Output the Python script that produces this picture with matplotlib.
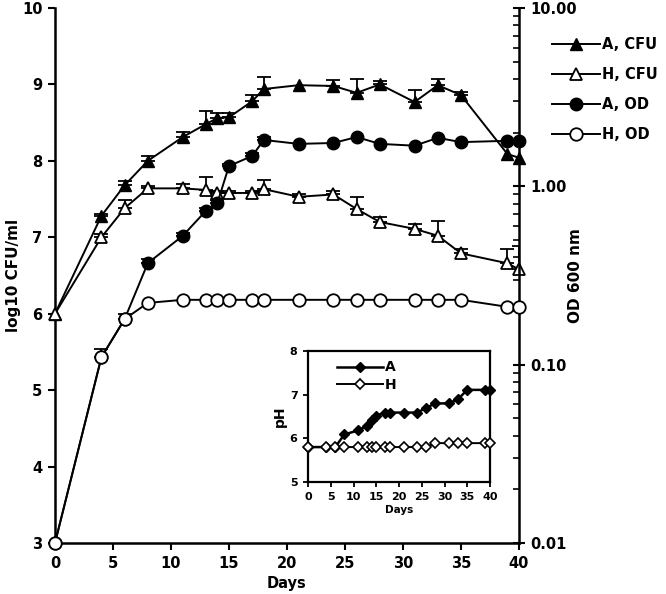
import matplotlib
matplotlib.use("Agg")
import matplotlib.pyplot as plt
import numpy as np
from matplotlib.ticker import LogLocator, NullFormatter

plt.rcParams['font.family'] = ['DejaVu Sans']
plt.rcParams['font.weight'] = 'bold'

# ---- data ----
days_cfu = [0, 4, 6, 8, 11, 13, 14, 15, 17, 18, 21, 24, 26, 28, 31, 33, 35, 39, 40]
a_cfu = [6.0, 7.28, 7.68, 8.0, 8.31, 8.48, 8.56, 8.57, 8.78, 8.94, 8.99, 8.98, 8.89, 9.0, 8.77, 8.99, 8.86, 8.09, 8.04]
a_cfu_err = [0, 0.03, 0.05, 0.06, 0.07, 0.17, 0.06, 0.06, 0.08, 0.16, 0, 0.08, 0.18, 0.05, 0.16, 0.08, 0.04, 0, 0]
h_cfu = [6.0, 7.0, 7.38, 7.64, 7.64, 7.62, 7.58, 7.58, 7.58, 7.63, 7.53, 7.56, 7.37, 7.2, 7.11, 7.02, 6.79, 6.66, 6.58]
h_cfu_err = [0, 0.04, 0.11, 0.03, 0.06, 0.17, 0.02, 0.02, 0.02, 0.12, 0.04, 0.05, 0.16, 0.06, 0.06, 0.19, 0.06, 0.19, 0.3]

days_od = [0, 4, 6, 8, 11, 13, 14, 15, 17, 18, 21, 24, 26, 28, 31, 33, 35, 39, 40]
a_od = [0.01, 0.110, 0.180, 0.371, 0.527, 0.728, 0.807, 1.30, 1.48, 1.82, 1.73, 1.75, 1.89, 1.73, 1.69, 1.87, 1.77, 1.80, 1.80]
a_od_err = [0, 0, 0, 0.02, 0.02, 0.03, 0.03, 0.03, 0.05, 0.08, 0, 0, 0, 0, 0, 0, 0, 0, 0]
h_od = [0.01, 0.110, 0.180, 0.222, 0.231, 0.231, 0.231, 0.231, 0.231, 0.231, 0.231, 0.231, 0.231, 0.231, 0.231, 0.231, 0.231, 0.211, 0.211]
h_od_err = [0, 0.012, 0.012, 0, 0, 0, 0, 0, 0, 0, 0, 0, 0, 0, 0, 0, 0, 0, 0]

days_ph = [0, 4, 6, 8, 11, 13, 14, 15, 17, 18, 21, 24, 26, 28, 31, 33, 35, 39, 40]
a_ph = [5.8, 5.8, 5.8, 6.09, 6.18, 6.29, 6.42, 6.52, 6.59, 6.59, 6.59, 6.59, 6.70, 6.80, 6.80, 6.90, 7.11, 7.11, 7.11]
h_ph = [5.8, 5.8, 5.8, 5.8, 5.8, 5.8, 5.8, 5.8, 5.8, 5.8, 5.8, 5.8, 5.8, 5.89, 5.89, 5.89, 5.89, 5.89, 5.89]

x_ticks = [0, 5, 10, 15, 20, 25, 30, 35, 40]
left_ticks = [3, 4, 5, 6, 7, 8, 9, 10]
right_ticks = [0.01, 0.1, 1.0, 10.0]
right_labels = ['0.01', '0.10', '1.00', '10.00']
inset_yticks = [5, 6, 7, 8]

# ---- figure ----
fig = plt.figure(figsize=(6.66, 5.94), dpi=100)
ax = fig.add_axes([55/666, 1-543/594, (519-55)/666, (543-8)/594])
ax2 = ax.twinx()

lw = 1.4
ms = 8.5
fs = 10.5


def upper_err(a, x, y, e):
    for xx, yy, ee in zip(x, y, e):
        if ee > 0:
            a.errorbar([xx], [yy], yerr=[[0], [ee]], fmt='none', ecolor='black',
                       elinewidth=1.3, capsize=5, capthick=1.3, zorder=3)


# CFU on left axis
upper_err(ax, days_cfu, a_cfu, a_cfu_err)
upper_err(ax, days_cfu, h_cfu, h_cfu_err)
l1, = ax.plot(days_cfu, a_cfu, '-', color='black', lw=lw, marker='^', ms=ms,
              mfc='black', mec='black', zorder=4, clip_on=False, label='A, CFU')
l2, = ax.plot(days_cfu, h_cfu, '-', color='black', lw=lw, marker='^', ms=ms,
              mfc='white', mec='black', mew=1.3, zorder=4, clip_on=False, label='H, CFU')

# OD on right (log) axis
upper_err(ax2, days_od, a_od, a_od_err)
upper_err(ax2, days_od, h_od, h_od_err)
l3, = ax2.plot(days_od, a_od, '-', color='black', lw=lw, marker='o', ms=ms + 0.5,
               mfc='black', mec='black', zorder=4, clip_on=False, label='A, OD')
l4, = ax2.plot(days_od, h_od, '-', color='black', lw=lw, marker='o', ms=ms + 0.5,
               mfc='white', mec='black', mew=1.3, zorder=5, clip_on=False, label='H, OD')

ax.set_xlim(0, 40)
ax.set_ylim(3, 10)
ax2.set_yscale('log')
ax2.set_ylim(0.01, 10)

for a in (ax, ax2):
    a.spines['top'].set_visible(False)
    a.patch.set_visible(False)
ax.spines['right'].set_visible(False)
ax2.spines['left'].set_visible(False)
ax2.spines['bottom'].set_visible(False)
for s in ['left', 'bottom']:
    ax.spines[s].set_linewidth(1.8)
ax2.spines['right'].set_linewidth(1.8)

ax.set_xticks(x_ticks)
ax.set_yticks(left_ticks)
ax.tick_params(axis='both', direction='out', length=5, width=1.5, labelsize=fs, pad=4)
ax2.set_yticks(right_ticks)
ax2.set_yticklabels(right_labels)
ax2.yaxis.set_minor_locator(LogLocator(base=10, subs=np.arange(2, 10)))
ax2.yaxis.set_minor_formatter(NullFormatter())
ax2.tick_params(axis='y', which='major', direction='inout', length=8, width=1.5, labelsize=fs, pad=4)
ax2.tick_params(axis='y', which='minor', direction='in', length=4, width=1.2)

for lab in ax.get_xticklabels() + ax.get_yticklabels() + ax2.get_yticklabels():
    lab.set_fontweight('bold')

ax.set_xlabel('Days', fontsize=fs, fontweight='bold', labelpad=4)
ax.set_ylabel('log10 CFU/ml', fontsize=11, fontweight='bold', labelpad=1)
ax2.set_ylabel('OD 600 nm', fontsize=11, fontweight='bold', labelpad=-6)

fig.legend(handles=[l1, l2, l3, l4], loc='upper left', bbox_to_anchor=(552/666, 1-37/594),
           frameon=False, prop={'weight': 'bold', 'size': fs},
           handlelength=3.3, handletextpad=0.1, labelspacing=1.02, borderaxespad=0,
           borderpad=0)

# ---- inset ----
axi = fig.add_axes([308/666, 1-482/594, (490-308)/666, (482-351)/594])
li1, = axi.plot(days_ph, a_ph, '-', color='black', lw=1.8, marker='D', ms=5,
                mfc='black', mec='black', clip_on=False, zorder=4, label='A')
li2, = axi.plot(days_ph, h_ph, '-', color='black', lw=1.4, marker='D', ms=5.5,
                mfc='white', mec='black', mew=1.2, clip_on=False, zorder=5, label='H')
axi.set_xlim(0, 40)
axi.set_ylim(5, 8)
axi.set_xticks(x_ticks)
axi.set_yticks(inset_yticks)
for s in axi.spines.values():
    s.set_linewidth(1.6)
axi.tick_params(axis='both', direction='out', length=3.5, width=1.3, labelsize=8, pad=4)
for lab in axi.get_xticklabels() + axi.get_yticklabels():
    lab.set_fontweight('bold')
axi.set_xlabel('Days', fontsize=7.5, fontweight='bold', labelpad=2)
axi.set_ylabel('pH', fontsize=10, fontweight='bold', labelpad=2)
axi.legend(handles=[li1, li2], loc='upper left', bbox_to_anchor=(0.13, 0.97), frameon=False,
           prop={'weight': 'bold', 'size': 10}, handlelength=3.3, handletextpad=0.15,
           labelspacing=0.25, borderaxespad=0)

fig.savefig('out.png', dpi=100)
